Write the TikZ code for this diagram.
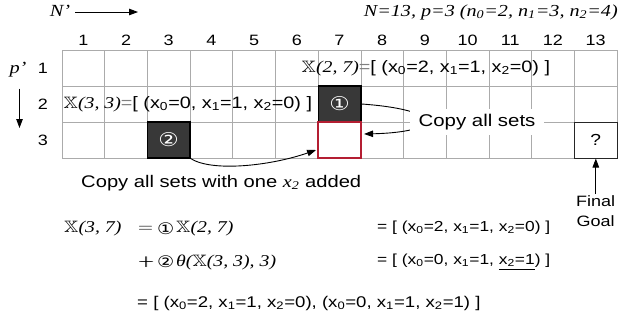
\documentclass[tikz,border=0pt]{standalone}
\usepackage{fontspec}
\usepackage{amssymb}
\usepackage{graphicx}
\setmainfont{Liberation Sans}
\newfontfamily\tms{Liberation Serif}
\newfontfamily\djv{DejaVu Sans}
\usetikzlibrary{arrows.meta}
\definecolor{darkfill}{HTML}{383838}
\definecolor{redc}{HTML}{B41E32}
\definecolor{gridc}{HTML}{ABABAB}
\newcommand{\dX}{\ensuremath{\mathbb{X}}}
\newcommand{\sbs}[1]{\textsubscript{#1}}
\newcommand{\si}[1]{{\tms\itshape #1}}
\newcommand{\fs}[1]{\fontsize{#1}{#1}\selectfont}
\newcommand{\dplus}{\ensuremath{{+}\mkern-12mu{+}}}
\begin{document}
\begin{tikzpicture}[x=0.833333pt, y=-1pt, xscale=1.2,
  every node/.append style={transform shape},
  gridline/.style={draw=gridc, line width=0.6pt},
  cellbox/.style={rectangle, minimum width=35.575pt, minimum height=36pt, inner sep=0pt},
  darkcell/.style={cellbox, fill=darkfill, draw=black, line width=1.3pt, text=white, font=\djv\fs{19}},
  redcell/.style={cellbox, draw=redc, line width=2pt},
  goalcell/.style={cellbox, draw=black!85, line width=1pt, font=\fs{16}},
  arr/.style={-{Triangle[length=9pt,width=6.5pt]}, line width=0.9pt},
  colnum/.style={font=\fs{15}},
  rowtxt/.style={anchor=west, inner sep=0pt, font=\fs{16.5}},
  eqtxt/.style={anchor=west, inner sep=0pt, font=\fs{14.5}},
  sertxt/.style={anchor=west, inner sep=0pt, font=\fs{16.5}},
  circnum/.style={anchor=west, inner sep=0pt, font=\djv\fs{16}},
]
\useasboundingbox (0,0) rectangle (621,325);

% grid
\foreach \i in {0,...,13} \draw[gridline] ({62+\i*42.69},50) -- ({62+\i*42.69},158);
\foreach \j in {0,...,3} \draw[gridline] (62,{50+\j*36}) -- (617,{50+\j*36});

% column and row numbers
\foreach \j in {1,...,13} \node[colnum] (h\j) at ({62+(\j-0.5)*42.69},40.5) {\j};
\node[colnum] (r1) at (43,68) {1};
\node[colnum] (r2) at (43,104) {2};
\node[colnum] (r3) at (43,140) {3};

% axes labels
\node[inner sep=1pt, font=\fs{17}] (np) at (60,11) {\si{N’}};
\coordinate (nend) at (138,12);
\draw[arr] ([xshift=3pt]np.east |- nend) -- (nend);
\node[inner sep=1pt, font=\fs{17}] (pp) at (18,70) {\si{p’}};
\coordinate (pend) at (19.5,128);
\draw[arr] (pend |- pp.south) ++(0,10) -- (pend);

\node[anchor=east, inner sep=0pt, font=\fs{16.8}] (title) at (618,12)
  {\si{N=13, p=3 (n\sbs{0}=2, n\sbs{1}=3, n\sbs{2}=4)}};

% special cells
\node[darkcell] (c27) at (339.5,104) {①};
\node[darkcell] (c33) at (168.7,140) {②};
\node[redcell] (c37) at (339.5,140) {};
\node[goalcell] (c313) at (595.7,140) {?};

% row texts
\node[rowtxt] (t1) at (301.5,68) {\si{\dX(2, 7)}\textcolor{gray}{=}[ (x\sbs{0}=2, x\sbs{1}=1, x\sbs{2}=0) ]};
\node[rowtxt] (t2) at (63.5,104) {\si{\dX(3, 3)}\textcolor{gray}{=}[ (x\sbs{0}=0, x\sbs{1}=1, x\sbs{2}=0) ]};

% copy arrows
\coordinate (e1) at (364,134);
\draw[arr] (c27.east) .. controls (445,110) and (445,132) .. (e1);
\node[anchor=west, fill=white, inner xsep=7pt, inner ysep=5pt, font=\fs{17}] (cp) at (410,122) {Copy all sets};
\coordinate (e2) at (316,150);
\draw[arr] (c33.south east) .. controls (212,172) and (270,166) .. (e2);
\node[anchor=west, inner sep=0pt, font=\fs{16.8}] (cw) at (81,183) {Copy all sets with one \si{x\sbs{2}} added};

% final goal
\node[anchor=north, align=center, inner sep=1pt, font=\fontsize{15}{20}\selectfont] (fg) at (595.7,194) {Final\\Goal};
\draw[arr] (fg.north) -- (c313.south);

% equations
\node[sertxt] (q1) at (64,229) {\si{\dX(3, 7)}};
\node[sertxt] (q1eq) at (138,229) {$=$};
\node[circnum] (q1c) at (157,229) {①};
\node[sertxt] (q1b) at (176,229) {\si{\dX(2, 7)}};
\node[sertxt] (q2p) at (138,262) {\dplus};
\node[circnum] (q2c) at (157,262) {②};
\node[sertxt] (q2b) at (176,262) {\si{θ(\dX(3, 3), 3)}};
\node[eqtxt] (a1) at (377,228) {= [ (x\sbs{0}=2, x\sbs{1}=1, x\sbs{2}=0) ]};
\node[eqtxt] (a2) at (377,262) {= [ (x\sbs{0}=0, x\sbs{1}=1, \underline{x\sbs{2}=1}) ]};
\node[eqtxt, font=\fs{15.5}] (a3) at (137,303) {= [ (x\sbs{0}=2, x\sbs{1}=1, x\sbs{2}=0), (x\sbs{0}=0, x\sbs{1}=1, x\sbs{2}=1) ]};
\end{tikzpicture}
\end{document}
